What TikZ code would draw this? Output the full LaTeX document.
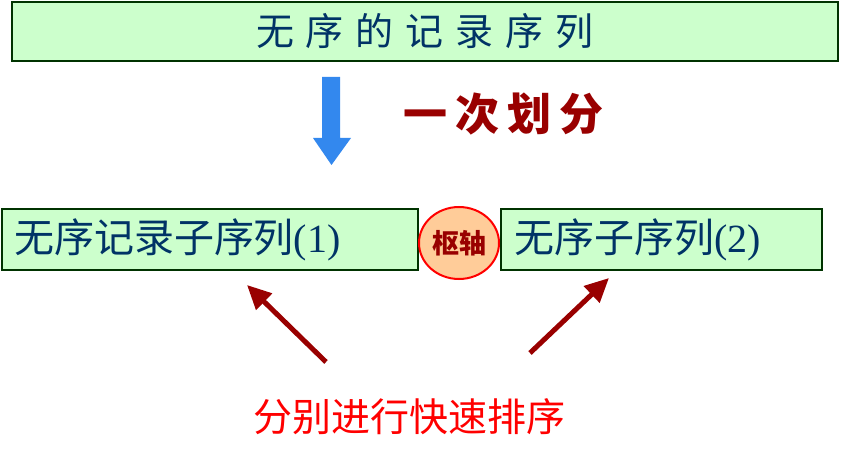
\documentclass[tikz,border=0pt]{standalone}
\usepackage{fontspec}
\setmainfont{Liberation Serif}
\newfontfamily\cjk{Noto Sans CJK SC}
\usetikzlibrary{arrows.meta,shapes.geometric}
\definecolor{boxgreen}{HTML}{CCFFCC}
\definecolor{boxline}{HTML}{003300}
\definecolor{navy}{HTML}{003366}
\definecolor{arrowblue}{HTML}{3388EE}
\definecolor{darkred}{HTML}{990000}
\definecolor{pivotfill}{HTML}{FFCC99}
\newcommand{\fs}[1]{\fontsize{#1pt}{#1pt}\selectfont}
\begin{document}
\begin{tikzpicture}[x=1pt, y=-1pt,
  seqbox/.style={draw=boxline, line width=2pt, fill=boxgreen, minimum height=61pt, inner sep=0pt, text=navy},
  redarrow/.style={draw=darkred, line width=5pt, -{Triangle[length=24pt, width=22pt]}}]
	\useasboundingbox (0,0) rectangle (841,449);
	% Top
	\node[seqbox, minimum width=826pt, minimum height=59pt] (all) at (425,31.5)
		{\cjk\fs{38}无\kern12pt 序\kern12pt 的\kern12pt 记\kern12pt 录\kern12pt 序\kern12pt 列};
	\fill[arrowblue] (322,77) -- (340,77) -- (340,138) -- (351,138) -- (331.5,165) -- (313,138) -- (322,138) -- cycle;
	\node[text=darkred, anchor=west] (split) at (400,114)
		{\cjk\bfseries\fs{44}一\kern8pt 次\kern8pt 划\kern8pt 分};
	% Middle
	\node[seqbox, minimum width=416pt, text width=392pt, align=left] (left) at (210,239.5)
		{{\cjk\fs{40}无序记录子序列}\fs{40}(1)};
	\node[draw=red, line width=2pt, fill=pivotfill, ellipse, minimum width=80pt, minimum height=72pt, inner sep=0pt, text=darkred] (pivot) at (459,243)
		{\cjk\bfseries\fs{27}枢轴};
	\node[seqbox, minimum width=321pt, text width=295pt, align=left] (right) at (661.5,239.5)
		{{\cjk\fs{40}无序子序列}\fs{40}(2)};
	% Bottom
	\node[text=red] (sort) at (409,417) {\cjk\fs{39}分别进行快速排序};
	\coordinate (lfrom) at (326,362);
	\coordinate (lto) at (247,285);
	\coordinate (rfrom) at (530,353);
	\coordinate (rto) at (609,278);
	\draw[redarrow] (lfrom) -- (lto);
	\draw[redarrow] (rfrom) -- (rto);
\end{tikzpicture}
\end{document}
